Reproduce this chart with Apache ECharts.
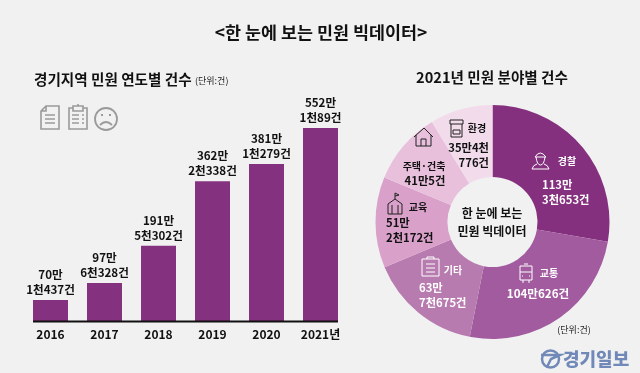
<!DOCTYPE html>
<html>
<head>
<meta charset="utf-8">
<style>html,body{margin:0;padding:0;background:#f1f1f1}#main{width:640px;height:373px}</style>
<script src="https://cdn.jsdelivr.net/npm/echarts@6/dist/echarts.min.js"></script>
</head>
<body>
<div id="main"></div>
<script>
var years = ['2016', '2017', '2018', '2019', '2020', '2021년'];
// the printed figures
var yearLabels = ['70만\n1천437건', '97만\n6천328건', '191만\n5천302건', '362만\n2천338건', '381만\n1천279건', '552만\n1천89건'];
// bar lengths as drawn in the picture, in 만, scaled to the 552 bar
// (the original graphic is not to scale with its printed figures)
var barLengths = [60, 109, 215, 400, 449, 552];

var fields = ['경찰', '교통', '기타', '교육', '주택·건축', '환경'];
var fieldValues = [1133653, 1040626, 637675, 512172, 415005, 354776];
var fieldColors = ['#84307f', '#a25b9f', '#b87bb0', '#d9a0c9', '#e8c0dc', '#f2dcec'];

var font = '"Noto Sans CJK KR"';
var myChart = echarts.init(document.getElementById('main'));

function txt(x, y, text, size, color, align, weight) {
  return {
    type: 'text', x: x, y: y, z: 20,
    style: {
      text: text, fontFamily: font, fontSize: size, fontWeight: weight || 'bold',
      fill: color || '#111', align: align || 'center', verticalAlign: 'middle', lineHeight: 15
    }
  };
}
// graphic component has no plain path type, so register one per icon
var iconCount = 0;
function icon(d, color, width) {
  var name = 'icon' + (iconCount++);
  echarts.graphic.registerShape(name, echarts.graphic.extendPath(d));
  return {
    type: name, z: 20,
    style: { fill: 'none', stroke: color, lineWidth: width || 1.3 }
  };
}

var grey = '#9a9a9a';
var graphics = [
  txt(321, 32, '<한 눈에 보는 민원 빅데이터>', 17.4),
  txt(34, 79, '경기지역 민원 연도별 건수', 14.6, '#111', 'left'),
  txt(195, 81, '(단위:건)', 9, '#222', 'left', 'normal'),
  txt(492, 77, '2021년 민원 분야별 건수', 14.6),
  txt(574, 330, '(단위:건)', 9, '#222', 'center', 'normal'),
  // baseline
  { type: 'line', z: 20, shape: { x1: 33, y1: 321.5, x2: 338, y2: 321.5 }, style: { stroke: '#111', lineWidth: 2 } },

  // grey icons, top left
  icon('M46 106H59V129H41V111ZM46 106V111H41M45 115H55M45 119H55M45 123H55', grey, 1.6),
  icon('M73 108H69V129H87V108H83M73 106H83V111H73ZM72 115H79M72 119H79M72 123H79M82 115H84M82 119H84M82 123H84M78 106V104', grey, 1.6),
  { type: 'circle', z: 20, shape: { cx: 106, cy: 119, r: 11 }, style: { fill: 'none', stroke: grey, lineWidth: 1.8 } },
  icon('M100 125Q106 119 112 125M101 115H103M109 115H111', grey, 1.8),

  // centre
  txt(492, 213, '한 눈에 보는', 12),
  txt(492, 231, '민원 빅데이터', 12),

  // police
  icon('M535 157Q540 149 546 157ZM536 157Q537 165 540.5 165Q544 165 545 157M532 169Q533 165 537 164M549 169Q548 165 544 164M532 169H549', '#fff', 1),
  txt(567, 161, fields[0], 10, '#fff'),
  txt(542, 192, '113만\n3천653건', 11.3, '#fff', 'left'),

  // traffic
  icon('M520 266H532V280H520ZM520 272H532M523 280V283M529 280V283M524 264H528M522 276H523M529 276H530', '#fff', 1),
  txt(549, 273, fields[1], 10, '#fff'),
  txt(538, 294, '104만626건', 11.6, '#fff'),

  // other
  icon('M422 259H439V276H422ZM427 259V257H434V259M426 264H435M426 268H435M426 272H435', '#fff', 1),
  txt(453, 270, fields[2], 10, '#fff'),
  txt(419, 295, '63만\n7천675건', 11.3, '#fff', 'left'),

  // education
  icon('M388 214V204L395 199L402 204V214ZM392 214V205M398 214V205M395 199V193L399 195L395 196', '#222', 1),
  txt(418, 207, fields[3], 10),
  txt(386, 230, '51만\n2천172건', 11.3, '#111', 'left'),

  // housing
  icon('M414 137L424 128L433 137M416 135V146H431V135M421 146V139H426V146', '#222', 1),
  txt(424, 166, fields[4], 10),
  txt(425, 181, '41만5건', 11.3),

  // environment
  icon('M450 120H463V124H450ZM451 124V137H462V124M453 130H460M453 130V134H460V130', '#222', 1),
  txt(477, 128, fields[5], 10),
  txt(489, 155, '35만4천\n776건', 11.3, '#111', 'right'),

  // logo
  { type: 'circle', z: 20, shape: { cx: 550.5, cy: 359, r: 8.5 }, style: { fill: 'none', stroke: '#7089b8', lineWidth: 2.5 } },
  icon('M541 355H560L551 359L547 367', '#7089b8', 2.5),
  txt(563, 359, '경기일보', 18, '#7089b8', 'left', 900)
];

var option = {
  backgroundColor: '#f1f1f1',
  animation: false,
  textStyle: { fontFamily: font },
  grid: { left: 23.5, width: 324, top: 128, bottom: 52 },
  xAxis: {
    type: 'category',
    data: years,
    axisLine: { show: false },
    axisTick: { show: false },
    axisLabel: { color: '#111', fontSize: 12, fontWeight: 'bold', margin: 7, interval: 0, fontFamily: font }
  },
  yAxis: { type: 'value', min: 0, max: 552, show: false },
  series: [
    {
      type: 'bar',
      data: barLengths,
      barWidth: 35,
      itemStyle: { color: '#84317f' },
      label: {
        show: true,
        position: 'top',
        distance: 3,
        color: '#111',
        fontSize: 11.6,
        fontWeight: 'bold',
        lineHeight: 15,
        fontFamily: font,
        formatter: function (p) { return yearLabels[p.dataIndex]; }
      }
    },
    {
      type: 'pie',
      center: [492.5, 222],
      radius: [45, 117],
      startAngle: 90,
      clockwise: true,
      label: { show: false },
      labelLine: { show: false },
      data: fields.map(function (name, i) {
        return { name: name, value: fieldValues[i], itemStyle: { color: fieldColors[i] } };
      })
    }
  ],
  graphic: graphics
};
myChart.setOption(option);
</script>
</body>
</html>
